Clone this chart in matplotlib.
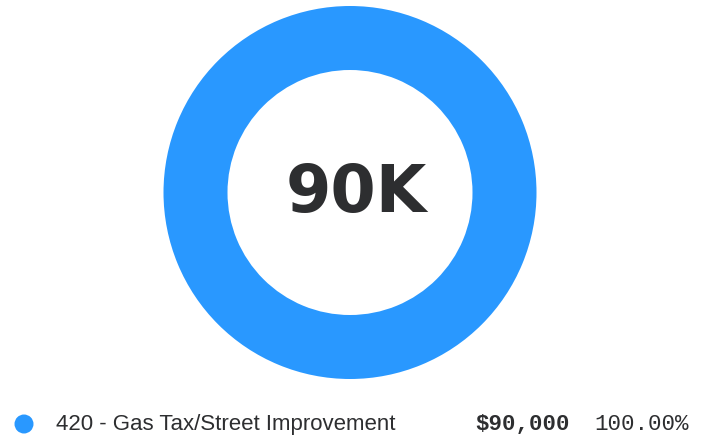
import matplotlib
matplotlib.use('Agg')
import matplotlib.pyplot as plt
from matplotlib.patches import Circle

# data
labels = ['420 - Gas Tax/Street Improvement']
values = [90000]
colors = ['#2998ff']
center_label = '90K'

W, H = 706, 440
fig = plt.figure(figsize=(W / 100, H / 100), dpi=100, facecolor='white')

# donut axes, placed in pixel units
cx, cy, r_out, r_in = 350, 192.5, 186.5, 122.5
ax = fig.add_axes([(cx - r_out) / W, (H - cy - r_out) / H,
                   2 * r_out / W, 2 * r_out / H])
ax.pie(values, colors=colors, startangle=90, counterclock=False,
       wedgeprops=dict(width=(r_out - r_in) / r_out, linewidth=0))
ax.set_aspect('equal')
ax.set_xlim(-1, 1)
ax.set_ylim(-1, 1)
ax.axis('off')
ax.text(0.035, -0.01, center_label, ha='center', va='center', fontsize=47,
        fontweight='bold', family='DejaVu Sans', color='#2d2e30')

# legend row
total = sum(values)
ly = 1 - 424 / H
lax = fig.add_axes([0, 0, 1, 1], zorder=-1)
lax.set_xlim(0, W)
lax.set_ylim(0, H)
lax.axis('off')
for i, (lab, val, col) in enumerate(zip(labels, values, colors)):
    y = ly - i * 0.06
    lax.add_patch(Circle((24, y * H), 9.5, color=col, lw=0))
    fig.text(56 / W, y, lab, ha='left', va='center', fontsize=16,
             family='Liberation Sans', color='#2d2e30')
    fig.text(570 / W, y, '${:,.0f}'.format(val), ha='right', va='center',
             fontsize=16.2, fontweight='bold', family='Liberation Mono',
             color='#2d2e30')
    fig.text(594 / W, y, '{:.2f}%'.format(100 * val / total), ha='left',
             va='center', fontsize=16.2, family='Liberation Mono',
             color='#2d2e30')

fig.savefig('out.png', dpi=100, facecolor='white')
